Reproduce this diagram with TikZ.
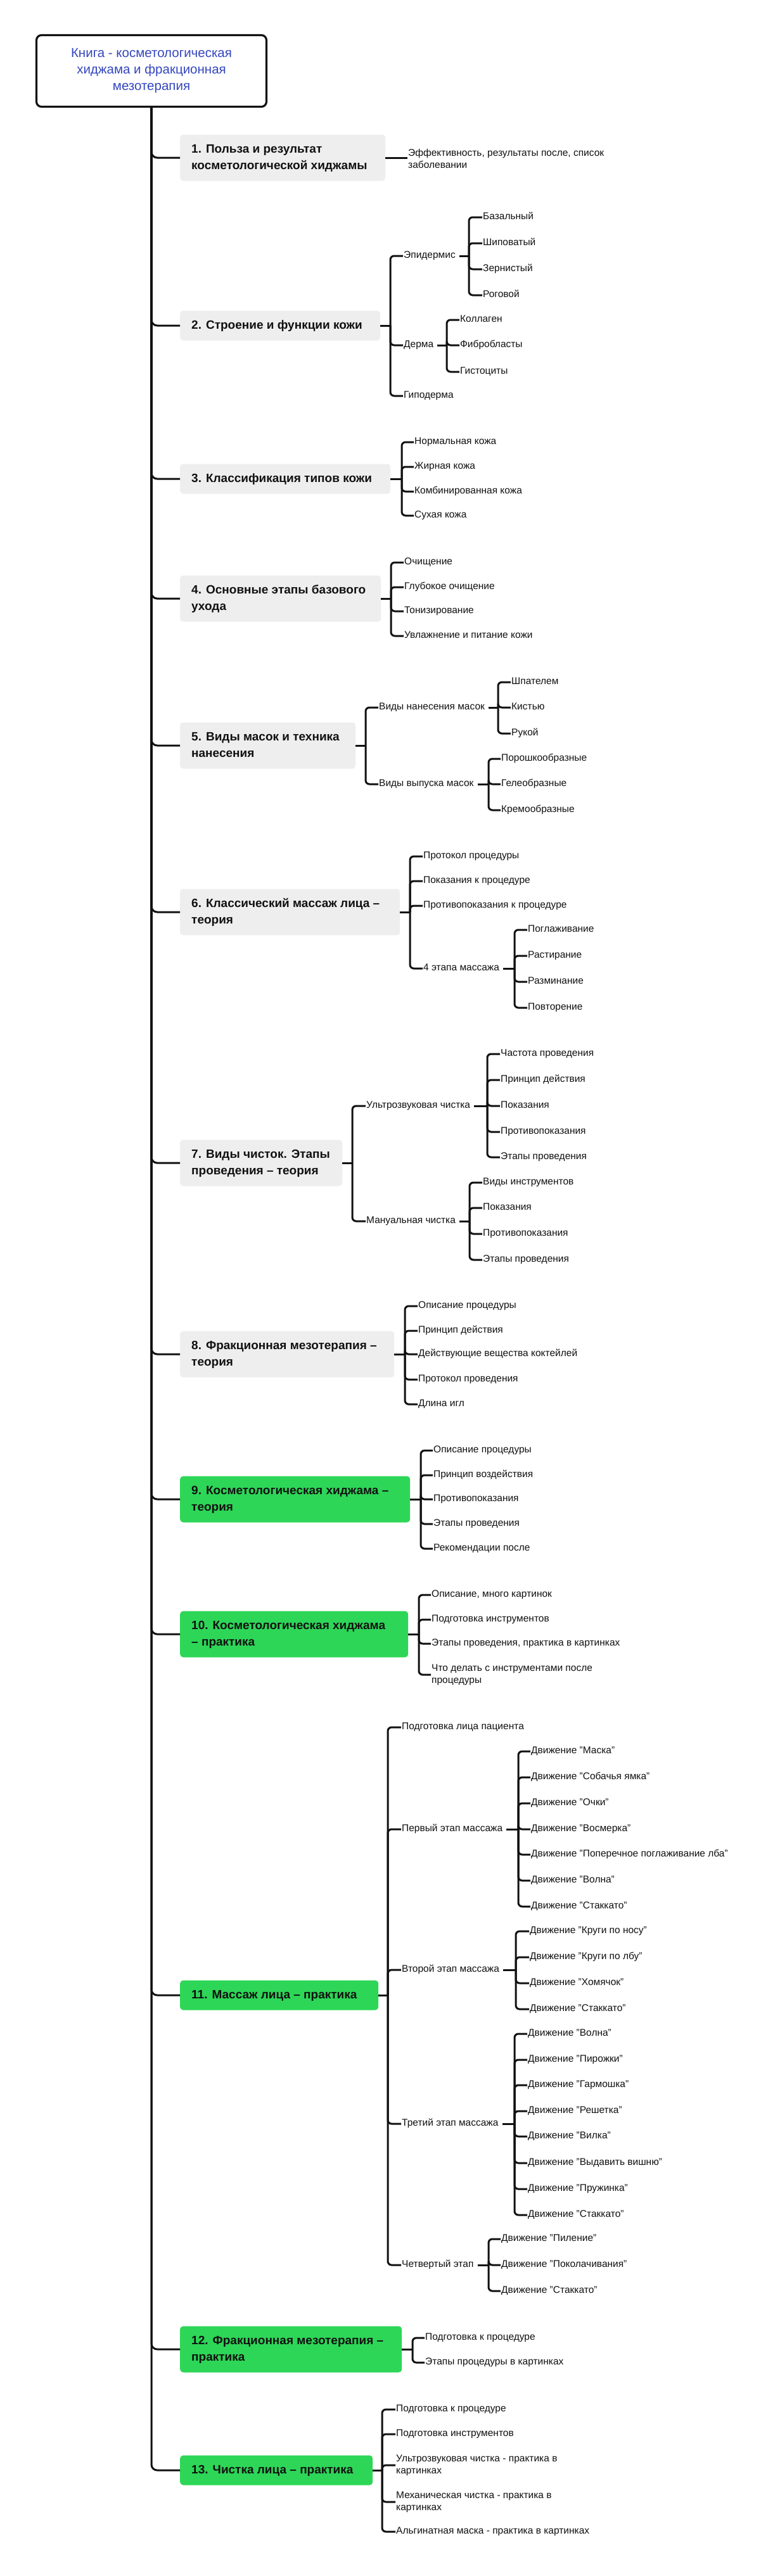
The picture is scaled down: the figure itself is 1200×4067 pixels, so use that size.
\documentclass[tikz,border=0pt]{standalone}
\usepackage{fontspec}
\setmainfont{Liberation Sans}
\definecolor{rootblue}{RGB}{52,70,190}
\definecolor{secgray}{RGB}{238,238,238}
\definecolor{secgreen}{RGB}{45,214,87}
\definecolor{ink}{RGB}{17,17,17}
\newcommand{\seclines}[2]{\makebox[#1][l]{\begin{tabular}{@{}l@{}}#2\end{tabular}}}
\tikzset{
  conn/.style={draw=ink, line width=3pt, rounded corners=6pt},
  trunk/.style={draw=ink, line width=3pt, rounded corners=9pt},
  leaf/.style={anchor=west, inner xsep=1pt, inner ysep=0pt, text height=11pt, text depth=3.5pt, font=\fontsize{15.5}{19}\selectfont, text=ink},
  leafm/.style={anchor=west, inner xsep=1pt, inner ysep=0pt, align=left, font=\fontsize{15.5}{19}\selectfont, text=ink},
  sec/.style={anchor=west, rounded corners=5pt, inner xsep=18pt, inner ysep=0pt, font=\fontsize{19}{26}\selectfont\bfseries, text=ink},
  gsec/.style={sec, fill=secgray},
  vsec/.style={sec, fill=secgreen},
  rootbox/.style={draw=ink, line width=3.2pt, rounded corners=8pt, fill=white, minimum width=363pt, minimum height=113pt, align=center, font=\fontsize{20.5}{26}\selectfont, text=rootblue}
}
\begin{document}
\begin{tikzpicture}[x=1pt,y=-1pt]
\useasboundingbox[fill=white] (0,0) rectangle (1200,4067);

% root
\node[rootbox] (root) at (239,112) {Книга - косметологическая\\хиджама и фракционная\\мезотерапия};

% sections
\node[gsec, minimum width=324pt, minimum height=73pt] (s1) at (284,249) {\seclines{288pt}{1. Польза и результат\\косметологической хиджамы}};
\node[gsec, minimum width=316pt, minimum height=47pt] (s2) at (284,514) {\seclines{280pt}{2. Строение и функции кожи}};
\node[gsec, minimum width=332pt, minimum height=47pt] (s3) at (284,756) {\seclines{296pt}{3. Классификация типов кожи}};
\node[gsec, minimum width=317pt, minimum height=73pt] (s4) at (284,945) {\seclines{281pt}{4. Основные этапы базового\\ухода}};
\node[gsec, minimum width=277pt, minimum height=73pt] (s5) at (284,1177) {\seclines{241pt}{5. Виды масок и техника\\нанесения}};
\node[gsec, minimum width=347pt, minimum height=73pt] (s6) at (284,1440) {\seclines{311pt}{6. Классический массаж лица –\\теория}};
\node[gsec, minimum width=256pt, minimum height=73pt] (s7) at (284,1836) {\seclines{220pt}{7. Виды чисток. Этапы\\проведения – теория}};
\node[gsec, minimum width=338pt, minimum height=73pt] (s8) at (284,2138) {\seclines{302pt}{8. Фракционная мезотерапия –\\теория}};
\node[vsec, minimum width=363pt, minimum height=73pt] (s9) at (284,2367) {\seclines{327pt}{9. Косметологическая хиджама –\\теория}};
\node[vsec, minimum width=360pt, minimum height=73pt] (s10) at (284,2580) {\seclines{324pt}{10. Косметологическая хиджама\\– практика}};
\node[vsec, minimum width=313pt, minimum height=47pt] (s11) at (284,3150) {\seclines{277pt}{11. Массаж лица – практика}};
\node[vsec, minimum width=350pt, minimum height=73pt] (s12) at (284,3709) {\seclines{314pt}{12. Фракционная мезотерапия –\\практика}};
\node[vsec, minimum width=304pt, minimum height=47pt] (s13) at (284,3900) {\seclines{268pt}{13. Чистка лица – практика}};

\foreach \s in {s1,s2,s3,s4,s5,s6,s7,s8,s9,s10,s11,s12,s13}
  \draw[trunk] (root.south) |- (\s.west);

% ---- 1
\node[leafm] (s1a) at (643,250) {Эффективность, результаты после, список\\заболевании};
\draw[conn] (s1.east) -- (s1.east -| s1a.west);

% ---- 2
\node[leaf] (s2a) at (636,404) {Эпидермис};
\node[leaf] (s2b) at (636,545) {Дерма};
\node[leaf] (s2c) at (636,625) {Гиподерма};
\node[leaf] (s2a1) at (761,343) {Базальный};
\node[leaf] (s2a2) at (761,384) {Шиповатый};
\node[leaf] (s2a3) at (761,425) {Зернистый};
\node[leaf] (s2a4) at (761,466) {Роговой};
\node[leaf] (s2b1) at (725,505) {Коллаген};
\node[leaf] (s2b2) at (725,545) {Фибробласты};
\node[leaf] (s2b3) at (725,587) {Гистоциты};
\coordinate (j2) at (616,514);
\draw[conn] (s2.east) -- (j2);
\foreach \c in {s2a,s2b,s2c} \draw[conn] (j2) |- (\c.west);
\coordinate (j2a) at (740,404);
\draw[conn] ([xshift=5pt]s2a.east) -- (j2a);
\foreach \c in {s2a1,s2a2,s2a3,s2a4} \draw[conn] (j2a) |- (\c.west);
\coordinate (j2b) at (705,545);
\draw[conn] ([xshift=5pt]s2b.east) -- (j2b);
\foreach \c in {s2b1,s2b2,s2b3} \draw[conn] (j2b) |- (\c.west);

% ---- 3
\node[leaf] (s3a) at (653,698) {Нормальная кожа};
\node[leaf] (s3b) at (653,737) {Жирная кожа};
\node[leaf] (s3c) at (653,776) {Комбинированная кожа};
\node[leaf] (s3d) at (653,814) {Сухая кожа};
\coordinate (j3) at (634,756);
\draw[conn] (s3.east) -- (j3);
\foreach \c in {s3a,s3b,s3c,s3d} \draw[conn] (j3) |- (\c.west);

% ---- 4
\node[leaf] (s4a) at (637,888) {Очищение};
\node[leaf] (s4b) at (637,927) {Глубокое очищение};
\node[leaf] (s4c) at (637,965) {Тонизирование};
\node[leaf] (s4d) at (637,1004) {Увлажнение и питание кожи};
\coordinate (j4) at (617,945);
\draw[conn] (s4.east) -- (j4);
\foreach \c in {s4a,s4b,s4c,s4d} \draw[conn] (j4) |- (\c.west);

% ---- 5
\node[leaf] (s5a) at (597,1117) {Виды нанесения масок};
\node[leaf] (s5b) at (597,1238) {Виды выпуска масок};
\node[leaf] (s5a1) at (806,1077) {Шпателем};
\node[leaf] (s5a2) at (806,1117) {Кистью};
\node[leaf] (s5a3) at (806,1158) {Рукой};
\node[leaf] (s5b1) at (790,1198) {Порошкообразные};
\node[leaf] (s5b2) at (790,1238) {Гелеобразные};
\node[leaf] (s5b3) at (790,1279) {Кремообразные};
\coordinate (j5) at (577,1177);
\draw[conn] (s5.east) -- (j5);
\foreach \c in {s5a,s5b} \draw[conn] (j5) |- (\c.west);
\coordinate (j5a) at (786,1117);
\draw[conn] ([xshift=5pt]s5a.east) -- (j5a);
\foreach \c in {s5a1,s5a2,s5a3} \draw[conn] (j5a) |- (\c.west);
\coordinate (j5b) at (771,1238);
\draw[conn] ([xshift=5pt]s5b.east) -- (j5b);
\foreach \c in {s5b1,s5b2,s5b3} \draw[conn] (j5b) |- (\c.west);

% ---- 6
\node[leaf] (s6a) at (667,1352) {Протокол процедуры};
\node[leaf] (s6b) at (667,1391) {Показания к процедуре};
\node[leaf] (s6c) at (667,1430) {Противопоказания к процедуре};
\node[leaf] (s6d) at (667,1529) {4 этапа массажа};
\node[leaf] (s6d1) at (832,1468) {Поглаживание};
\node[leaf] (s6d2) at (832,1509) {Растирание};
\node[leaf] (s6d3) at (832,1550) {Разминание};
\node[leaf] (s6d4) at (832,1591) {Повторение};
\coordinate (j6) at (647,1440);
\draw[conn] (s6.east) -- (j6);
\foreach \c in {s6a,s6b,s6c,s6d} \draw[conn] (j6) |- (\c.west);
\coordinate (j6d) at (812,1529);
\draw[conn] ([xshift=5pt]s6d.east) -- (j6d);
\foreach \c in {s6d1,s6d2,s6d3,s6d4} \draw[conn] (j6d) |- (\c.west);

% ---- 7
\node[leaf] (s7a) at (577,1746) {Ультрозвуковая чистка};
\node[leaf] (s7b) at (577,1928) {Мануальная чистка};
\node[leaf] (s7a1) at (789,1664) {Частота проведения};
\node[leaf] (s7a2) at (789,1705) {Принцип действия};
\node[leaf] (s7a3) at (789,1746) {Показания};
\node[leaf] (s7a4) at (789,1787) {Противопоказания};
\node[leaf] (s7a5) at (789,1827) {Этапы проведения};
\node[leaf] (s7b1) at (761,1867) {Виды инструментов};
\node[leaf] (s7b2) at (761,1907) {Показания};
\node[leaf] (s7b3) at (761,1948) {Противопоказания};
\node[leaf] (s7b4) at (761,1989) {Этапы проведения};
\coordinate (j7) at (556,1836);
\draw[conn] (s7.east) -- (j7);
\foreach \c in {s7a,s7b} \draw[conn] (j7) |- (\c.west);
\coordinate (j7a) at (769,1746);
\draw[conn] ([xshift=5pt]s7a.east) -- (j7a);
\foreach \c in {s7a1,s7a2,s7a3,s7a4,s7a5} \draw[conn] (j7a) |- (\c.west);
\coordinate (j7b) at (741,1928);
\draw[conn] ([xshift=5pt]s7b.east) -- (j7b);
\foreach \c in {s7b1,s7b2,s7b3,s7b4} \draw[conn] (j7b) |- (\c.west);

% ---- 8
\node[leaf] (s8a) at (659,2062) {Описание процедуры};
\node[leaf] (s8b) at (659,2101) {Принцип действия};
\node[leaf] (s8c) at (659,2138) {Действующие вещества коктейлей};
\node[leaf] (s8d) at (659,2178) {Протокол проведения};
\node[leaf] (s8e) at (659,2217) {Длина игл};
\coordinate (j8) at (639,2138);
\draw[conn] (s8.east) -- (j8);
\foreach \c in {s8a,s8b,s8c,s8d,s8e} \draw[conn] (j8) |- (\c.west);

% ---- 9
\node[leaf] (s9a) at (683,2290) {Описание процедуры};
\node[leaf] (s9b) at (683,2329) {Принцип воздействия};
\node[leaf] (s9c) at (683,2367) {Противопоказания};
\node[leaf] (s9d) at (683,2406) {Этапы проведения};
\node[leaf] (s9e) at (683,2445) {Рекомендации после};
\coordinate (j9) at (664,2367);
\draw[conn] (s9.east) -- (j9);
\foreach \c in {s9a,s9b,s9c,s9d,s9e} \draw[conn] (j9) |- (\c.west);

% ---- 10
\node[leaf] (s10a) at (680,2518) {Описание, много картинок};
\node[leaf] (s10b) at (680,2557) {Подготовка инструментов};
\node[leaf] (s10c) at (680,2595) {Этапы проведения, практика в картинках};
\node[leafm] (s10d) at (680,2644) {Что делать с инструментами после\\процедуры};
\coordinate (j10) at (661,2580);
\draw[conn] (s10.east) -- (j10);
\foreach \c in {s10a,s10b,s10c,s10d} \draw[conn] (j10) |- (\c.west);

% ---- 11
\node[leaf] (s11a) at (633,2727) {Подготовка лица пациента};
\node[leaf] (s11b) at (633,2888) {Первый этап массажа};
\node[leaf] (s11c) at (633,3110) {Второй этап массажа};
\node[leaf] (s11d) at (633,3353) {Третий этап массажа};
\node[leaf] (s11e) at (633,3576) {Четвертый этап};
\node[leaf] (s11b1) at (837,2765) {Движение "Маска"};
\node[leaf] (s11b2) at (837,2806) {Движение "Собачья ямка"};
\node[leaf] (s11b3) at (837,2847) {Движение "Очки"};
\node[leaf] (s11b4) at (837,2888) {Движение "Восмерка"};
\node[leaf] (s11b5) at (837,2928) {Движение "Поперечное поглаживание лба"};
\node[leaf] (s11b6) at (837,2969) {Движение "Волна"};
\node[leaf] (s11b7) at (837,3010) {Движение "Стаккато"};
\node[leaf] (s11c1) at (835,3049) {Движение "Круги по носу"};
\node[leaf] (s11c2) at (835,3090) {Движение "Круги по лбу"};
\node[leaf] (s11c3) at (835,3131) {Движение "Хомячок"};
\node[leaf] (s11c4) at (835,3172) {Движение "Стаккато"};
\node[leaf] (s11d1) at (832,3211) {Движение "Волна"};
\node[leaf] (s11d2) at (832,3252) {Движение "Пирожки"};
\node[leaf] (s11d3) at (832,3292) {Движение "Гармошка"};
\node[leaf] (s11d4) at (832,3333) {Движение "Решетка"};
\node[leaf] (s11d5) at (832,3373) {Движение "Вилка"};
\node[leaf] (s11d6) at (832,3415) {Движение "Выдавить вишню"};
\node[leaf] (s11d7) at (832,3456) {Движение "Пружинка"};
\node[leaf] (s11d8) at (832,3497) {Движение "Стаккато"};
\node[leaf] (s11e1) at (790,3535) {Движение "Пиление"};
\node[leaf] (s11e2) at (790,3576) {Движение "Поколачивания"};
\node[leaf] (s11e3) at (790,3617) {Движение "Стаккато"};
\coordinate (j11) at (612,3150);
\draw[conn] (s11.east) -- (j11);
\foreach \c in {s11a,s11b,s11c,s11d,s11e} \draw[conn] (j11) |- (\c.west);
\coordinate (j11b) at (818,2888);
\draw[conn] ([xshift=5pt]s11b.east) -- (j11b);
\foreach \c in {s11b1,s11b2,s11b3,s11b4,s11b5,s11b6,s11b7} \draw[conn] (j11b) |- (\c.west);
\coordinate (j11c) at (814,3110);
\draw[conn] ([xshift=5pt]s11c.east) -- (j11c);
\foreach \c in {s11c1,s11c2,s11c3,s11c4} \draw[conn] (j11c) |- (\c.west);
\coordinate (j11d) at (812,3353);
\draw[conn] ([xshift=5pt]s11d.east) -- (j11d);
\foreach \c in {s11d1,s11d2,s11d3,s11d4,s11d5,s11d6,s11d7,s11d8} \draw[conn] (j11d) |- (\c.west);
\coordinate (j11e) at (771,3576);
\draw[conn] ([xshift=5pt]s11e.east) -- (j11e);
\foreach \c in {s11e1,s11e2,s11e3} \draw[conn] (j11e) |- (\c.west);

% ---- 12
\node[leaf] (s12a) at (670,3691) {Подготовка к процедуре};
\node[leaf] (s12b) at (670,3730) {Этапы процедуры в картинках};
\coordinate (j12) at (651,3709);
\draw[conn] (s12.east) -- (j12);
\foreach \c in {s12a,s12b} \draw[conn] (j12) |- (\c.west);

% ---- 13
\node[leaf] (s13a) at (624,3804) {Подготовка к процедуре};
\node[leaf] (s13b) at (624,3843) {Подготовка инструментов};
\node[leafm] (s13c) at (624,3892) {Ультрозвуковая чистка - практика в\\картинках};
\node[leafm] (s13d) at (624,3950) {Механическая чистка - практика в\\картинках};
\node[leaf] (s13e) at (624,3997) {Альгинатная маска - практика в картинках};
\coordinate (j13) at (603,3900);
\draw[conn] (s13.east) -- (j13);
\foreach \c in {s13a,s13b,s13c,s13d,s13e} \draw[conn] (j13) |- (\c.west);
\end{tikzpicture}
\end{document}
